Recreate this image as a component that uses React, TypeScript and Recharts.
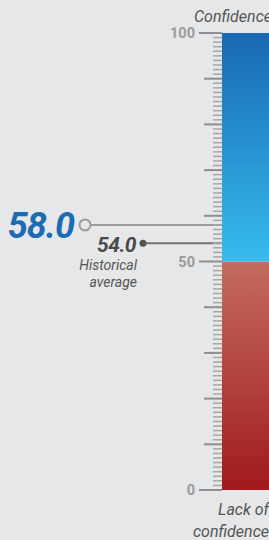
import { BarChart, Bar, XAxis, YAxis, ReferenceLine } from 'recharts'

// scale bands (lack of confidence 0-50, confidence 50-100)
const bands = [{ name: 'index', low: 50, high: 50 }]
const axisTicks = Array.from({ length: 101 }, (_, i) => i)
const labelledTicks = [0, 50, 100]
const currentValue = 58.0
const historicalAverage = 54.0
const topLabel = 'Confidence'
const bottomLabel = ['Lack of', 'confidence']
const averageLabel = ['Historical', 'average']

const FONT = 'Roboto, "Noto Sans", sans-serif'

function ScaleTick({ x, y, payload }: { x?: number; y?: number; payload?: { value: number } }) {
  const v = payload?.value ?? 0
  const len = v % 50 === 0 ? 23 : v % 10 === 0 ? 18 : 9
  const major = v % 10 === 0
  return (
    <g>
      <line x1={x! - len} x2={x} y1={y} y2={y} stroke={major ? '#8e8e8e' : '#a6a6a6'} strokeWidth={major ? 2 : 1.5} />
      {labelledTicks.includes(v) && (
        <text x={x! - len - 4} y={y! + 5} textAnchor="end" fontFamily={FONT} fontWeight={700} fontSize={14.5} fill="#9a9a9a">
          {v}
        </text>
      )}
    </g>
  )
}

function CurrentLabel({ viewBox }: { viewBox?: { x: number; y: number } }) {
  if (!viewBox) return null
  const { x, y } = viewBox
  return (
    <g>
      <line x1={x - 131} x2={x} y1={y} y2={y} stroke="#9c9c9c" strokeWidth={2} />
      <circle cx={x - 137} cy={y} r={5.5} fill="#e6e7e8" stroke="#9c9c9c" strokeWidth={2} />
      <text x={x - 148} y={y + 13} textAnchor="end" fontFamily={FONT} fontStyle="italic" fontWeight={700} fontSize={36} fill="#1b6cb3" letterSpacing={-1}>
        {currentValue.toFixed(1)}
      </text>
    </g>
  )
}

function AverageLabel({ viewBox }: { viewBox?: { x: number; y: number } }) {
  if (!viewBox) return null
  const { x, y } = viewBox
  return (
    <g>
      <line x1={x - 79} x2={x} y1={y} y2={y} stroke="#727272" strokeWidth={2} />
      <circle cx={x - 79} cy={y} r={3.5} fill="#555" />
      <text x={x - 86} y={y + 9} textAnchor="end" fontFamily={FONT} fontStyle="italic" fontWeight={700} fontSize={21} fill="#4a4a4a" letterSpacing={-0.5}>
        {historicalAverage.toFixed(1)}
      </text>
      {averageLabel.map((t, i) => (
        <text key={t} x={x - 85} y={y + 27 + i * 17} textAnchor="end" fontFamily={FONT} fontStyle="italic" fontSize={14} fill="#555">
          {t}
        </text>
      ))}
    </g>
  )
}

function TopLabel({ viewBox }: { viewBox?: { x: number; y: number; width: number } }) {
  if (!viewBox) return null
  const { x, y, width } = viewBox
  return (
    <text x={x + width + 3} y={y - 11} textAnchor="end" fontFamily={FONT} fontStyle="italic" fontSize={16} fill="#555">
      {topLabel}
    </text>
  )
}

function BottomLabel({ viewBox }: { viewBox?: { x: number; y: number; width: number } }) {
  if (!viewBox) return null
  const { x, y, width } = viewBox
  return (
    <g>
      {bottomLabel.map((t, i) => (
        <text key={t} x={x + width} y={y + 25 + i * 22} textAnchor="end" fontFamily={FONT} fontStyle="italic" fontSize={16} fill="#555">
          {t}
        </text>
      ))}
    </g>
  )
}

export default function App() {
  return (
    <div style={{ position: 'absolute', left: 0, top: 0, width: 269, height: 540, background: '#e6e7e8', overflow: 'hidden' }}>
      <BarChart width={269} height={540} data={bands} margin={{ top: 33, right: 0, bottom: 50, left: 0 }} barCategoryGap={0}>
        <defs>
          <linearGradient id="blueGrad" x1="0" y1="0" x2="0" y2="1">
            <stop offset="0%" stopColor="#1868b2" />
            <stop offset="100%" stopColor="#37bced" />
          </linearGradient>
          <linearGradient id="redGrad" x1="0" y1="0" x2="0" y2="1">
            <stop offset="0%" stopColor="#c46c60" />
            <stop offset="100%" stopColor="#a01a1e" />
          </linearGradient>
        </defs>
        <XAxis dataKey="name" hide />
        <YAxis
          domain={[0, 100]} ticks={axisTicks} interval={0} width={222}
          axisLine={false} tickLine={false} tickSize={0} tickMargin={0}
          tick={<ScaleTick />}
        />
        <Bar dataKey="low" stackId="s" fill="url(#redGrad)" isAnimationActive={false} />
        <Bar dataKey="high" stackId="s" fill="url(#blueGrad)" isAnimationActive={false} />
        <ReferenceLine y={currentValue} stroke="none" label={<CurrentLabel />} />
        <ReferenceLine y={historicalAverage} stroke="none" label={<AverageLabel />} />
        <ReferenceLine y={100} stroke="none" label={<TopLabel />} />
        <ReferenceLine y={0} stroke="none" label={<BottomLabel />} />
      </BarChart>
    </div>
  )
}
